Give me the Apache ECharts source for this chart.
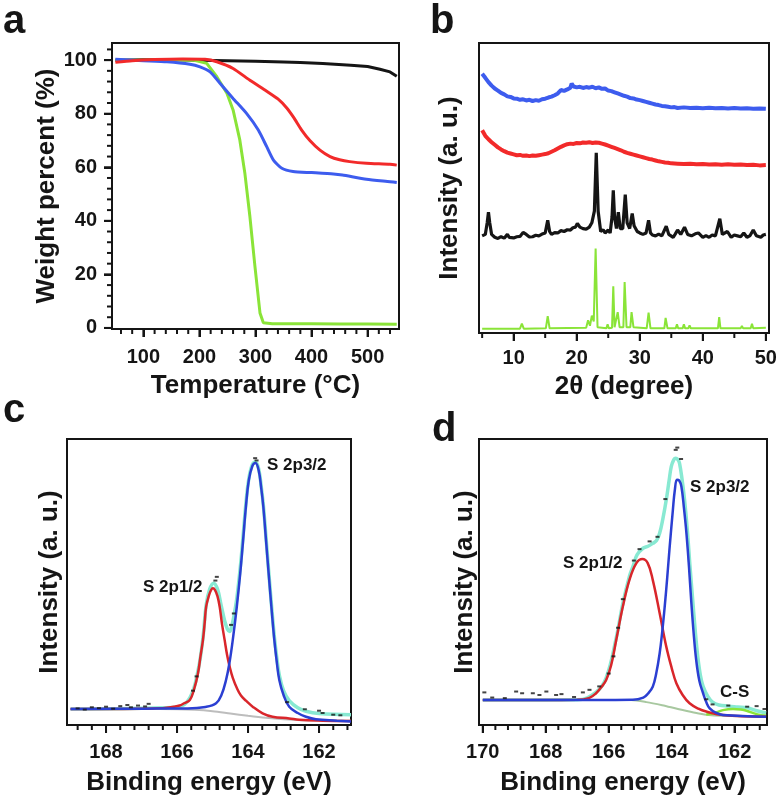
<!DOCTYPE html>
<html><head><meta charset="utf-8">
<script src="https://cdn.jsdelivr.net/npm/echarts@6/dist/echarts.min.js"></script>
<style>html,body{margin:0;padding:0;background:#fff}#c{width:781px;height:801px}</style>
</head><body><div id="c"></div><script>
// ---------- Panel a : TGA ----------
var tgaXLabels = [100, 200, 300, 400, 500];
var tgaXMinor = [60, 80, 120, 140, 160, 180, 220, 240, 260, 280, 320, 340, 360, 380, 420, 440, 460, 480, 520, 540];
var tgaYLabels = [0, 20, 40, 60, 80, 100];
var tgaYMinor = [4, 8, 12, 16, 24, 28, 32, 36, 44, 48, 52, 56, 64, 68, 72, 76, 84, 88, 92, 96, 104];
var tgaBlack = [[50,100],[100,100.1],[150,100.1],[200,100],[250,99.8],[300,99.6],[350,99.3],[380,99.1],[420,98.7],[470,98.1],[500,97.6],[522,96.6],[540,95.6],[552,94.0]];
var tgaRed = [[50,99.2],[80,99.8],[120,100.2],[170,100.4],[210,100.3],[231,99.4],[260,96.9],[290,92.5],[320,88.4],[340,85.5],[355,82.3],[368,78.6],[382,74.0],[397,70.0],[415,66.4],[433,64.0],[450,62.8],[468,62.1],[498,61.5],[540,61.1],[552,60.8]];
var tgaBlue = [[50,100.3],[100,99.8],[142,99.4],[183,98.5],[201,97.5],[219,95.6],[237,91.3],[260,85.7],[284,80.1],[305,73.9],[320,67.7],[332,62.7],[347,59.6],[367,58.4],[400,58.0],[439,57.5],[455,57.1],[498,55.5],[540,54.6],[552,54.3]];
var tgaGreen = [[50,100],[100,100],[150,100.1],[189,100],[213,98.8],[231,93.8],[249,87.6],[260,81.4],[272,70.2],[281,57.8],[290,41.6],[299,23.0],[308,5.6],[314,1.9],[330,1.6],[400,1.6],[450,1.5],[500,1.5],[552,1.4]];

// ---------- Panel b : XRD ----------
var xrdXLabels = [10, 20, 30, 40, 50];
var xrdXMinor = [5, 15, 25, 35, 45];
var xrdBlue = [[5,89.4],[5.5,88],[6,86.5],[6.5,85.3],[7,84.3],[7.5,83.6],[8,82.8],[8.5,82.3],[9,81.6],[9.5,81.4],[10,80.9],[10.5,80.8],[11,80.4],[11.5,80.6],[12,80.2],[12.5,80.4],[13,80.0],[13.5,80.3],[14,80.1],[14.5,80.6],[15,80.8],[15.5,81.2],[16,81.5],[16.5,82.0],[17,82.6],[17.5,83.8],[17.8,83.2],[18,83.5],[18.5,84.0],[19,84.6],[19.2,86.0],[19.5,85.0],[20,84.7],[20.5,84.9],[21,84.5],[21.5,84.8],[22,84.6],[22.5,84.9],[23,84.4],[23.5,84.7],[24,84.2],[24.5,84.3],[25,83.6],[25.5,83.4],[26,83.0],[26.5,82.6],[27,82.2],[27.5,81.8],[28,81.5],[28.5,81.0],[29,80.9],[29.5,80.5],[30,80.3],[30.5,80.0],[31,79.7],[31.5,79.4],[32,79.1],[32.5,78.8],[33,78.6],[33.5,78.3],[34,78.2],[34.5,78.0],[35,77.8],[35.5,77.9],[36,77.6],[37,77.8],[38,77.6],[39,77.7],[40,77.5],[41,77.7],[42,77.5],[43,77.6],[44,77.4],[45,77.6],[46,77.4],[47,77.5],[48,77.3],[49,77.4],[50,77.3]];
var xrdRed = [[5,69.9],[5.5,68],[6,66.8],[6.5,65.8],[7,64.9],[7.5,64.0],[8,63.3],[8.5,62.7],[9,62.2],[9.5,61.9],[10,61.6],[10.5,61.3],[11,61.4],[11.5,61.1],[12,61.2],[12.5,61.0],[13,61.2],[13.5,61.1],[14,61.3],[14.5,61.5],[15,61.7],[15.5,62.0],[16,62.5],[16.5,63.0],[17,63.6],[17.5,64.2],[18,64.7],[18.5,65.1],[19,65.3],[19.5,65.2],[20,65.5],[20.5,65.4],[21,65.7],[21.5,65.6],[22,65.8],[22.5,65.5],[23,65.7],[23.5,65.6],[24,65.3],[24.5,65.0],[25,64.6],[25.5,64.2],[26,63.8],[26.5,63.4],[27,63.0],[27.5,62.5],[28,62.1],[28.5,61.8],[29,61.5],[29.5,61.2],[30,60.9],[30.5,60.6],[31,60.3],[31.5,60.0],[32,59.8],[32.5,59.5],[33,59.2],[33.5,59.0],[34,58.8],[34.5,58.7],[35,58.5],[36,58.4],[37,58.3],[38,58.4],[39,58.2],[40,58.3],[41,58.1],[42,58.2],[43,58.0],[44,58.2],[45,58.0],[46,58.1],[47,57.9],[48,58.0],[49,57.8],[50,57.9]];
var xrdBlack = [[5,33.5],[5.5,34],[5.8,38],[6.0,41.7],[6.2,38],[6.5,34],[7,33],[7.5,32.6],[8,33.2],[8.5,32.7],[9,34],[9.3,33],[10,32.8],[10.5,33.2],[11,33.3],[11.5,34.7],[12,34],[12.5,33.1],[13,33.2],[13.5,33.7],[14,33.5],[14.5,34.1],[15,34.5],[15.4,38.9],[15.7,35],[16,34],[16.5,34.6],[17,34.5],[17.5,35.3],[18,35],[18.5,35.6],[19,35.5],[19.4,36.3],[19.8,36.5],[20.1,37.8],[20.5,36.5],[21,36],[21.5,35.8],[22,36.5],[22.4,38],[22.8,42],[23.1,62.1],[23.4,42],[23.8,35],[24.2,35.6],[24.5,34.5],[25,35.5],[25.3,34.5],[25.6,40],[25.8,49.2],[26.0,40],[26.3,36],[26.6,41.7],[26.9,36],[27.3,36],[27.7,47.7],[28.0,38],[28.4,36],[28.8,41.2],[29.1,37],[29.6,35],[30,34.5],[30.5,34],[31,34.5],[31.4,38.9],[31.7,34.5],[32,33.8],[32.5,33.5],[33,34.1],[33.5,33.5],[34.2,36.8],[34.6,34],[35.3,33],[35.6,34],[36,35.5],[36.5,34],[37.1,36.5],[37.6,34],[38.2,33.5],[38.8,34.2],[39.3,34.5],[40,33],[40.5,33.6],[41,33],[41.5,33.8],[42,33.5],[42.7,39.4],[43.1,34],[43.9,35],[44.5,33],[45,33.8],[45.5,33.5],[46,33.2],[46.5,34.5],[47,33],[47.5,33.6],[48,35.5],[48.5,33.5],[49.2,33],[49.6,33.8],[50,34]];
var xrdGreen = [[5,1.5],[11,1.5],[11.3,3.2],[11.6,1.5],[15.1,1.6],[15.4,5.8],[15.7,1.6],[21.5,1.8],[21.8,4.4],[22.1,2.5],[22.4,6],[22.7,4],[23.0,29.1],[23.3,2],[24.7,1.6],[24.9,3],[25.1,1.6],[25.6,1.8],[25.8,16.1],[26.0,2],[26.3,2],[26.5,7.2],[26.8,2],[27.4,2],[27.6,17.6],[27.9,2],[28.5,2],[28.7,7.2],[29.0,2],[31.1,1.6],[31.4,7],[31.7,1.6],[33.9,1.6],[34.1,5.2],[34.4,1.6],[35.7,1.6],[35.9,3],[36.1,1.6],[36.8,1.6],[37,3],[37.2,1.6],[37.7,1.6],[37.9,2.6],[38.1,1.6],[39.3,1.6],[39.5,2.2],[39.7,1.6],[42.4,1.6],[42.6,5.5],[42.8,1.6],[46,1.6],[46.2,2.4],[46.4,1.6],[47.6,1.6],[47.8,3.2],[48,1.6],[50,1.8]];

// ---------- Panel c : XPS ----------
var xpsCXLabels = [162, 164, 166, 168];
var xpsCXMinor = [168.8, 168.4, 167.6, 167.2, 166.8, 166.4, 165.6, 165.2, 164.8, 164.4, 163.6, 163.2, 162.8, 162.4, 161.6, 161.2];
var xpsCBg = [[169,5.6],[167,5.6],[166,5.5],[165.5,5.3],[165,4.8],[164.5,4.0],[164,3.2],[163.5,2.5],[163,2.0],[162.5,1.7],[161.1,1.5]];
var xpsCRed = [[169.0,5.6],[168,5.6],[167,5.7],[166.4,5.9],[166.1,6.4],[165.93,6.8],[165.8,7.6],[165.64,8.75],[165.52,12.5],[165.41,18.1],[165.34,24],[165.27,29.75],[165.22,36],[165.18,41.4],[165.1,45.3],[165.04,47.2],[164.99,47.8],[164.93,47.2],[164.86,45],[164.8,41.4],[164.73,35],[164.66,29.75],[164.59,24.5],[164.52,20.5],[164.43,16.5],[164.3,12.5],[164.2,10.3],[164.06,8.5],[163.87,6.4],[163.59,4.1],[163.31,2.9],[162.84,2.3],[162.56,1.8],[161.9,1.5],[161.1,1.4]];
var xpsCBlue = [[169,5.6],[167,5.7],[166,5.8],[165.7,5.8],[165.2,6.3],[164.9,7.6],[164.75,10.5],[164.62,15.75],[164.52,22],[164.43,29.75],[164.32,41],[164.22,53.1],[164.14,64.5],[164.06,76.4],[163.98,85.5],[163.88,90.5],[163.79,91.6],[163.7,89],[163.63,83],[163.57,76.4],[163.49,64],[163.42,53.1],[163.34,41],[163.26,29.75],[163.19,22],[163.12,15.75],[163.0,10.5],[162.84,6.4],[162.6,4.2],[162.37,2.9],[162.09,2.0],[161.5,1.5],[161.1,1.2]];
var xpsCEnv = [[169,5.6],[166,6.2],[165.64,9.5],[165.41,19],[165.27,30.5],[165.18,42],[165.08,47.5],[164.97,49.6],[164.86,47.5],[164.76,42],[164.66,36.5],[164.58,33.5],[164.52,32.7],[164.46,34.5],[164.4,38],[164.32,44],[164.22,55],[164.14,66],[164.06,77.5],[163.98,86],[163.88,91],[163.79,92],[163.7,89.5],[163.63,83.5],[163.57,77],[163.49,65],[163.42,54],[163.34,42],[163.26,31],[163.19,23.5],[163.12,17.5],[163.0,12],[162.84,8.5],[162.6,6],[162.37,4.8],[162,4.0],[161.1,3.6]];
var xpsCRaw = [[168.8,5.8],[168.6,5.4],[168.4,6.2],[168.2,5.9],[168,6.4],[167.8,5.7],[167.6,6.6],[167.4,7.0],[167.3,6.2],[167.1,6.8],[166.9,6.5],[166.8,7.4],[165.55,12],[165.45,17],[164.92,50.5],[164.88,51.8],[164.48,35],[164.4,39],[163.8,93.3],[163.76,92.5],[162.9,8],[162.4,5.5],[162.0,5.0],[161.9,4.2],[161.6,3.6],[161.4,3.4]];

// ---------- Panel d : XPS ----------
var xpsDXLabels = [162, 164, 166, 168, 170];
var xpsDXMinor = [169.6, 169.2, 168.8, 168.4, 167.6, 167.2, 166.8, 166.4, 165.6, 165.2, 164.8, 164.4, 163.6, 163.2, 162.8, 162.4, 161.6, 161.2];
var xpsDBg = [[170,8.75],[166,8.75],[165.3,8.7],[164.8,8.0],[164.3,6.9],[163.8,5.6],[163.3,4.4],[162.9,3.6],[162.4,3.2],[161,3.0]];
var xpsDRed = [[170,8.75],[168,8.75],[167,8.8],[166.61,9.5],[166.4,11.1],[166.25,13],[166.08,15.75],[165.92,21],[165.76,29.75],[165.55,41.4],[165.34,50.75],[165.12,56.6],[164.93,58],[164.76,56.6],[164.6,50.75],[164.38,39.1],[164.17,27.4],[164.0,20],[163.85,14.6],[163.65,10.5],[163.43,7.6],[163.15,5.7],[162.9,4.7],[162.37,3.5],[161,2.9]];
var xpsDBlue = [[170,8.75],[166,8.75],[165.23,8.8],[164.9,9.6],[164.75,11],[164.6,13.4],[164.49,18],[164.38,25.1],[164.3,32.5],[164.22,41.4],[164.14,51.5],[164.07,61.25],[163.96,75.25],[163.9,82],[163.83,85.75],[163.76,85.5],[163.69,83.4],[163.61,76],[163.53,67.1],[163.45,55.5],[163.38,43.75],[163.3,32],[163.22,22.75],[163.12,15.5],[163.0,11.1],[162.9,8],[162.79,5.8],[162.6,4.3],[162.37,3.5],[161,2.9]];
var xpsDCS = [[162.9,3.7],[162.6,4.3],[162.37,5.2],[162.05,5.6],[161.8,5.4],[161.62,5.0],[161.3,3.8],[161.0,3.2]];
var xpsDEnv = [[170,8.75],[167,8.8],[166.4,11.5],[166.08,16.5],[165.76,30.5],[165.55,42.5],[165.34,52],[165.23,55.4],[165.1,59.5],[164.91,61.8],[164.75,62.5],[164.6,63.5],[164.48,64.5],[164.38,67.1],[164.28,72],[164.17,78.75],[164.08,85.5],[164.01,90.4],[163.93,92.8],[163.87,93.3],[163.8,92.8],[163.75,91.6],[163.67,86],[163.59,78.75],[163.5,68],[163.42,56],[163.34,45],[163.25,33],[163.17,24],[163.08,17],[163.0,13.5],[162.85,10],[162.7,8],[162.5,7],[162.2,6.6],[161.9,6.3],[161.6,6],[161.3,5],[161.0,4.2]];
var xpsDRaw = [[169.95,11.4],[169.7,9.6],[169.3,9.4],[168.94,11.7],[168.75,11.1],[168.41,11.1],[168.2,10.5],[167.98,11.7],[167.67,10.5],[167.5,10.8],[167.1,9.8],[166.82,11.4],[166.61,12.3],[166.3,13.5],[166.0,18],[165.85,24],[165.7,34],[165.55,44],[165.2,57.5],[165.02,61.5],[164.7,64.2],[164.45,65.8],[164.2,79],[163.87,96.2],[163.82,97],[163.7,93],[162.9,9],[162.7,7.2],[162.2,6.8],[161.6,6.4],[161.3,6.6],[161.05,5.6]];

var FONT = '"Liberation Sans", Arial, sans-serif';
var INK = '#151515';

var panels = [
  {rect: [112, 43, 287, 286], x: [44, 556], y: [-0.4, 106.4], inv: false,
   xName: 'Temperature (°C)', xGap: 44, yName: 'Weight percent (%)', yGap: 52, xLabels: tgaXLabels, yLabels: tgaYLabels, xMargin: 18},
  {rect: [479, 43, 290, 290], x: [4.5, 50.5], y: [0, 100], inv: false,
   xName: '2θ (degree)', xGap: 41, yName: 'Intensity (a. u.)', yGap: 16, xLabels: xrdXLabels, yLabels: null, xMargin: 15},
  {rect: [67, 439, 284, 286], x: [161.1, 169.1], y: [0, 100], inv: true,
   xName: 'Binding energy (eV)', xGap: 45, yName: 'Intensity (a. u.)', yGap: 4, xLabels: xpsCXLabels, yLabels: null, xMargin: 17},
  {rect: [479, 439, 288, 286], x: [160.97, 170.12], y: [0, 100], inv: true,
   xName: 'Binding energy (eV)', xGap: 45, yName: 'Intensity (a. u.)', yGap: 1, xLabels: xpsDXLabels, yLabels: null, xMargin: 17}
];
var minorX = [tgaXMinor, xrdXMinor, xpsCXMinor, xpsDXMinor];

var titleStyle = {fontFamily: FONT, fontWeight: 'bold', fontSize: 26, color: INK};
var labelStyle = {fontFamily: FONT, fontWeight: 'bold', fontSize: 20, color: INK};
var grids = [], xAxes = [], yAxes = [];
panels.forEach(function (p, i) {
  grids.push({left: p.rect[0], top: p.rect[1], width: p.rect[2], height: p.rect[3], show: true,
    borderColor: INK, borderWidth: 2, backgroundColor: 'transparent'});
  xAxes.push({type: 'value', gridIndex: i, min: p.x[0], max: p.x[1], inverse: p.inv, position: 'bottom',
    name: p.xName, nameLocation: 'middle', nameGap: p.xGap, nameTextStyle: titleStyle,
    axisLine: {show: true, onZero: false, lineStyle: {color: INK, width: 2}},
    axisTick: {show: true, inside: false, length: 8, lineStyle: {color: INK, width: 2}, customValues: p.xLabels},
    splitLine: {show: false},
    axisLabel: Object.assign({show: true, customValues: p.xLabels, margin: p.xMargin}, labelStyle)});
  yAxes.push({type: 'value', gridIndex: i, min: p.y[0], max: p.y[1], position: 'left',
    name: p.yName, nameLocation: 'middle', nameGap: p.yGap, nameTextStyle: titleStyle,
    axisLine: {show: true, onZero: false, lineStyle: {color: INK, width: 2}},
    axisTick: p.yLabels ? {show: true, inside: false, length: 8, lineStyle: {color: INK, width: 2}, customValues: p.yLabels} : {show: false},
    splitLine: {show: false},
    axisLabel: p.yLabels ? Object.assign({show: true, customValues: p.yLabels, margin: 15}, labelStyle) : {show: false}});
});

function ln(data, pi, color, width, smooth, z) {
  return {type: 'line', data: data, xAxisIndex: pi, yAxisIndex: pi, showSymbol: false, symbol: 'none',
    smooth: smooth || false, lineStyle: {color: color, width: width}, z: z || 2, silent: true, animation: false};
}
function dots(data, pi) {
  return {type: 'scatter', data: data, xAxisIndex: pi, yAxisIndex: pi, symbol: 'rect', symbolSize: [4, 2],
    itemStyle: {color: INK}, z: 6, silent: true, animation: false};
}
// tick marks as rect symbols placed on the axis through the grid's scales, offset outward
function tickMarks(pi, values, dir, len) {
  var p = panels[pi];
  var xEdge = p.inv ? p.x[1] : p.x[0];
  return {type: 'scatter', xAxisIndex: pi, yAxisIndex: pi, clip: false, silent: true, animation: false, z: 30,
    data: values.map(function (v) { return dir === 'x' ? [v, p.y[0]] : [xEdge, v]; }),
    symbol: 'rect',
    symbolSize: dir === 'x' ? [2, len] : [len, 2],
    symbolOffset: dir === 'x' ? [0, len / 2] : [-len / 2, 0],
    itemStyle: {color: INK, opacity: 1}};
}
function txt(s, x, y, size) {
  return {type: 'text', x: x, y: y, silent: true, style: {text: s, font: 'bold ' + size + 'px ' + FONT, fill: INK, textVerticalAlign: 'middle'}, z: 10};
}

var RED = '#f22a2a', BLUE = '#3d5cee', GREEN = '#8ae438';
var XRED = '#d9262b', XBLUE = '#2b3fd2', CYAN = '#88e9d2', GRAY = '#bdbdbd';

var series = [
  ln(tgaBlack, 0, INK, 3),
  ln(tgaGreen, 0, GREEN, 3),
  ln(tgaBlue, 0, BLUE, 3, 0.2),
  ln(tgaRed, 0, RED, 3, 0.2),

  ln(xrdBlue, 1, BLUE, 4),
  ln(xrdRed, 1, RED, 4),
  ln(xrdBlack, 1, INK, 3.2),
  ln(xrdGreen, 1, GREEN, 2),

  ln(xpsCBg, 2, GRAY, 2, 0.3, 1),
  ln(xpsCEnv, 2, CYAN, 3.5, 0.4, 2),
  ln(xpsCRed, 2, XRED, 2.5, 0.4, 3),
  ln(xpsCBlue, 2, XBLUE, 2.5, 0.4, 4),
  dots(xpsCRaw, 2),

  ln(xpsDBg, 3, '#a8c8a0', 2, 0.3, 1),
  ln(xpsDEnv, 3, CYAN, 3.5, 0.4, 2),
  ln(xpsDCS, 3, GREEN, 2.5, 0.4, 3),
  ln(xpsDRed, 3, XRED, 2.5, 0.4, 3),
  ln(xpsDBlue, 3, XBLUE, 2.5, 0.4, 4),
  dots(xpsDRaw, 3)
];
panels.forEach(function (p, i) {
  series.push(tickMarks(i, p.xLabels, 'x', 8));
  series.push(tickMarks(i, minorX[i], 'x', 5));
});
series.push(tickMarks(0, tgaYLabels, 'y', 8));
series.push(tickMarks(0, tgaYMinor, 'y', 5));

var texts = [
  txt('a', 3, 22, 40), txt('b', 430, 22, 40), txt('c', 3, 411, 40), txt('d', 432, 430, 40),
  txt('S 2p3/2', 267, 465, 17), txt('S 2p1/2', 143, 587, 17),
  txt('S 2p3/2', 690, 487, 17), txt('S 2p1/2', 563, 563, 17), txt('C-S', 720, 692, 17)
];

var chart = echarts.init(document.getElementById('c'), null, {renderer: 'canvas'});
chart.setOption({
  backgroundColor: '#ffffff',
  animation: false,
  grid: grids,
  xAxis: xAxes,
  yAxis: yAxes,
  series: series,
  graphic: texts
});
</script></body></html>
